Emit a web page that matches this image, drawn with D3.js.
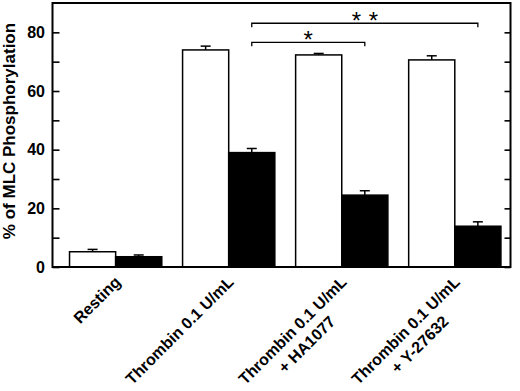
<!DOCTYPE html>
<html lang="en">
<head>
    <meta charset="UTF-8">
    <title>MLC Phosphorylation</title>
    <style>
        body {
            margin: 0;
            background: #ffffff;
        }
        svg {
            display: block;
            background-color: #ffffff;
        }
        text {
            font-family: 'Liberation Sans', Arial, Helvetica, sans-serif;
            font-weight: bold;
            fill: #000;
        }
    </style>
</head>
<body>
    <svg width="520" height="391"></svg>
    <script src="https://d3js.org/d3.v7.min.js"></script>
    <script>
        // Data
        var categories = ["Resting", "Thrombin 0.1 U/mL", "Thrombin 0.1 U/mL|+ HA1077", "Thrombin 0.1 U/mL|+ Y-27632"];
        var openValues = [5.2, 74.0, 72.3, 70.6];
        var openErrors = [0.8, 1.3, 0.5, 1.4];
        var filledValues = [3.5, 39.0, 24.5, 13.9];
        var filledErrors = [0.6, 1.4, 1.5, 1.5];
        var yTicks = [0, 10, 20, 30, 40, 50, 60, 70, 80];
        var yLabels = [0, 20, 40, 60, 80];

        // significance brackets: from group -> to group (filled bars), height in data units
        var bracketFrom = [1, 1];
        var bracketTo = [2, 3];
        var bracketLevel = [76.6, 83.1];
        var bracketLabel = ["*", "* *"];

        var svg = d3.select("svg"),
            margin = {top: 3, right: 9.5, bottom: 124, left: 52.5},
            width = +svg.attr("width") - margin.left - margin.right,
            height = +svg.attr("height") - margin.top - margin.bottom;

        var g = svg.append("g")
            .attr("transform", "translate(" + margin.left + "," + margin.top + ")");

        var x0 = d3.scaleBand()
            .domain(categories)
            .range([0, width])
            .paddingInner(0.184)
            .paddingOuter(0.1177)
            .align(0.64);

        var x1 = d3.scaleBand()
            .domain(["open", "filled"])
            .range([0, x0.bandwidth()]);

        var y = d3.scaleLinear().domain([0, 90]).range([height, 0]);

        // rows for the bars
        var rows = [];
        categories.forEach(function(c, i) {
            rows.push({cat: c, key: "open", value: openValues[i], err: openErrors[i]});
            rows.push({cat: c, key: "filled", value: filledValues[i], err: filledErrors[i]});
        });

        // axes, ticks pointing inward
        var yAxis = d3.axisLeft(y)
            .tickValues(yTicks)
            .tickSizeInner(-7)
            .tickSizeOuter(0)
            .tickPadding(7.5)
            .tickFormat(function(d) { return yLabels.indexOf(d) >= 0 ? d : ""; });

        var ya = g.append("g").call(yAxis);
        ya.select(".domain").remove();
        ya.selectAll(".tick line").attr("stroke", "#000").attr("stroke-width", 1.6);
        ya.selectAll(".tick text")
            .attr("font-size", "16px")
            .attr("font-family", "'Liberation Sans', Arial, sans-serif");

        var yRight = d3.axisRight(y)
            .tickValues(yTicks)
            .tickSizeInner(-6)
            .tickSizeOuter(0)
            .tickFormat("");

        var yr = g.append("g")
            .attr("transform", "translate(" + width + ",0)")
            .call(yRight);
        yr.select(".domain").remove();
        yr.selectAll(".tick line").attr("stroke", "#000").attr("stroke-width", 1.6);

        // bars
        g.selectAll(".bar")
            .data(rows)
            .enter().append("rect")
            .attr("class", "bar")
            .attr("x", function(d) { return x0(d.cat) + x1(d.key); })
            .attr("y", function(d) { return y(d.value); })
            .attr("width", x1.bandwidth())
            .attr("height", function(d) { return y(0) - y(d.value); })
            .attr("fill", function(d) { return d.key === "open" ? "#fff" : "#000"; })
            .attr("stroke", "#000")
            .attr("stroke-width", 1.5);

        // error bars (upper only)
        var eb = g.selectAll(".err")
            .data(rows)
            .enter().append("g")
            .attr("class", "err")
            .attr("transform", function(d) {
                return "translate(" + (x0(d.cat) + x1(d.key) + x1.bandwidth() / 2) + ",0)";
            });
        eb.append("line")
            .attr("x1", 0).attr("x2", 0)
            .attr("y1", function(d) { return y(d.value); })
            .attr("y2", function(d) { return y(d.value + d.err); })
            .attr("stroke", "#000").attr("stroke-width", 1.5);
        eb.append("line")
            .attr("x1", -5).attr("x2", 5)
            .attr("y1", function(d) { return y(d.value + d.err); })
            .attr("y2", function(d) { return y(d.value + d.err); })
            .attr("stroke", "#000").attr("stroke-width", 1.5);

        // frame
        g.append("rect")
            .attr("x", 0).attr("y", 0)
            .attr("width", width).attr("height", height)
            .attr("fill", "none")
            .attr("stroke", "#000")
            .attr("stroke-width", 2);

        // significance brackets
        function filledCenter(i) {
            return x0(categories[i]) + x1("filled") + x1.bandwidth() / 2;
        }
        bracketLevel.forEach(function(lv, i) {
            var xa = filledCenter(bracketFrom[i]),
                xb = filledCenter(bracketTo[i]),
                yy = y(lv);
            g.append("path")
                .attr("d", "M" + xa + "," + (yy + 4) + "V" + yy + "H" + xb + "V" + (yy + 4))
                .attr("fill", "none")
                .attr("stroke", "#000")
                .attr("stroke-width", 1.3);
            var stars = bracketLabel[i].split(" ");
            stars.forEach(function(s, j) {
                g.append("text")
                    .attr("x", (xa + xb) / 2 + (j - (stars.length - 1) / 2) * 17)
                    .attr("y", yy + 6)
                    .attr("text-anchor", "middle")
                    .attr("font-size", "24px")
                    .style("font-weight", "normal")
                    .text(s);
            });
        });

        // category labels, rotated
        categories.forEach(function(c) {
            var lines = c.split("|");
            var t = g.append("text")
                .attr("font-size", "16px")
                .attr("transform", "translate(" + (x0(c) + x0.bandwidth() / 2 + 6) + "," + (height + 16) + ") rotate(-45)");
            var first = t.append("tspan")
                .attr("x", 0).attr("y", 0)
                .attr("text-anchor", "end")
                .text(lines[0]);
            if (lines.length > 1) {
                var w = first.node().getComputedTextLength();
                t.append("tspan")
                    .attr("x", -w / 2).attr("y", 20)
                    .attr("text-anchor", "middle")
                    .text(lines[1]);
            }
        });

        // y axis title
        svg.append("text")
            .attr("transform", "translate(15," + 131 + ") rotate(-90)")
            .attr("text-anchor", "middle")
            .attr("font-size", "17px")
            .text("% of MLC Phosphorylation");
    </script>
</body>
</html>
